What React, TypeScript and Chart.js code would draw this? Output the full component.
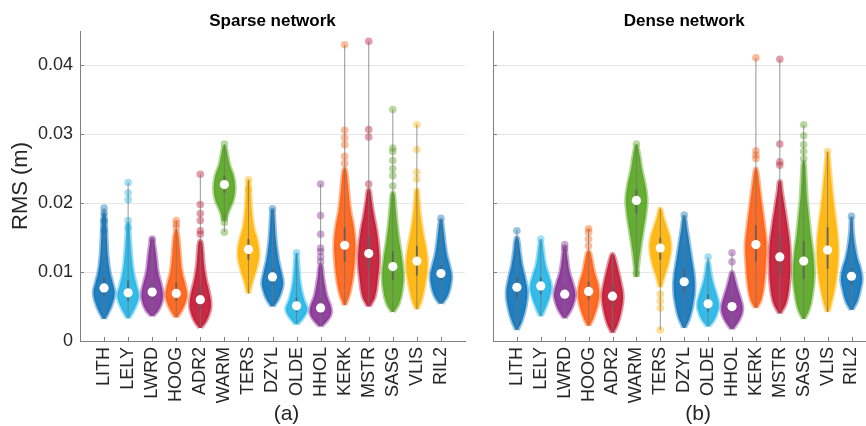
import React, { useEffect, useRef } from 'react';
import { Chart, registerables } from 'chart.js';

Chart.register(...registerables);

const FONT = '"Liberation Sans", Arial, Helvetica, sans-serif';

const stations = ['LITH', 'LELY', 'LWRD', 'HOOG', 'ADR2', 'WARM', 'TERS', 'DZYL', 'OLDE', 'HHOL', 'KERK', 'MSTR', 'SASG', 'VLIS', 'RIL2'];
const stationColors = ['#0A72BA', '#1FB4E6', '#842D93', '#FF5C0D', '#C2132F', '#54A51D', '#FFB200', '#0A72BA', '#1FB4E6', '#842D93', '#FF5C0D', '#C2132F', '#54A51D', '#FFB200', '#0A72BA'];
const yTicks = [0, 0.01, 0.02, 0.03, 0.04];
const yTickLabels = ['0', '0.01', '0.02', '0.03', '0.04'];

// ---------- Sparse network ----------
const sparseMedian = [0.0077, 0.0070, 0.0071, 0.0069, 0.0060, 0.0227, 0.0133, 0.0093, 0.0051, 0.0048, 0.0139, 0.0127, 0.0108, 0.0116, 0.0098];
const sparseQ1 = [0.0065, 0.0058, 0.0060, 0.0058, 0.0046, 0.0215, 0.0118, 0.0082, 0.0042, 0.0038, 0.0115, 0.0105, 0.0088, 0.0095, 0.0088];
const sparseQ3 = [0.0092, 0.0088, 0.0085, 0.0085, 0.0078, 0.0240, 0.0148, 0.0105, 0.0063, 0.0062, 0.0165, 0.0152, 0.0130, 0.0138, 0.0110];
const sparseMin = [0.0032, 0.0033, 0.0037, 0.0035, 0.0020, 0.0158, 0.0069, 0.0051, 0.0025, 0.0022, 0.0052, 0.0050, 0.0042, 0.0046, 0.0054];
const sparseMax = [0.0193, 0.0230, 0.0150, 0.0175, 0.0242, 0.0286, 0.0234, 0.0192, 0.0128, 0.0228, 0.0430, 0.0435, 0.0336, 0.0314, 0.0178];
// density profile: [value, relative half-width]
const sparseProfile: number[][][] = [
  [[0.0032, 0.1], [0.0042, 0.45], [0.0055, 0.8], [0.007, 1], [0.0085, 0.8], [0.010, 0.55], [0.0125, 0.35], [0.0155, 0.25], [0.0185, 0.12]],
  [[0.0033, 0.1], [0.0045, 0.55], [0.006, 0.95], [0.0068, 1], [0.008, 0.8], [0.010, 0.5], [0.012, 0.35], [0.015, 0.2], [0.017, 0.1]],
  [[0.0036, 0.1], [0.0045, 0.6], [0.0058, 0.95], [0.007, 1], [0.0085, 0.8], [0.010, 0.55], [0.012, 0.4], [0.0138, 0.25], [0.0148, 0.1]],
  [[0.0034, 0.1], [0.0045, 0.55], [0.006, 0.95], [0.007, 1], [0.0085, 0.8], [0.010, 0.55], [0.012, 0.4], [0.014, 0.3], [0.016, 0.12]],
  [[0.0019, 0.1], [0.003, 0.6], [0.0045, 0.95], [0.0055, 1], [0.007, 0.85], [0.009, 0.55], [0.011, 0.35], [0.013, 0.25], [0.0145, 0.12]],
  [[0.0175, 0.12], [0.019, 0.45], [0.0205, 0.85], [0.0222, 1], [0.024, 0.85], [0.0255, 0.5], [0.027, 0.3], [0.0282, 0.12]],
  [[0.0069, 0.1], [0.0085, 0.35], [0.0105, 0.75], [0.0125, 1], [0.0145, 0.85], [0.0165, 0.5], [0.019, 0.3], [0.0215, 0.2], [0.0232, 0.1]],
  [[0.005, 0.12], [0.0062, 0.6], [0.0075, 0.9], [0.0085, 1], [0.0098, 0.85], [0.0115, 0.6], [0.013, 0.45], [0.015, 0.3], [0.0175, 0.2], [0.019, 0.1]],
  [[0.0024, 0.1], [0.0033, 0.6], [0.0042, 0.95], [0.0048, 1], [0.006, 0.7], [0.0075, 0.45], [0.009, 0.3], [0.011, 0.2], [0.0125, 0.1]],
  [[0.0021, 0.1], [0.003, 0.65], [0.004, 1], [0.005, 0.95], [0.0065, 0.6], [0.008, 0.4], [0.0095, 0.25], [0.011, 0.12]],
  [[0.0052, 0.1], [0.007, 0.5], [0.0095, 0.8], [0.012, 0.95], [0.014, 1], [0.0165, 0.85], [0.019, 0.55], [0.022, 0.35], [0.025, 0.12]],
  [[0.005, 0.12], [0.0065, 0.6], [0.009, 0.85], [0.0115, 1], [0.0135, 0.95], [0.016, 0.75], [0.0185, 0.45], [0.0205, 0.25], [0.022, 0.1]],
  [[0.0042, 0.12], [0.0055, 0.6], [0.0075, 0.9], [0.0095, 1], [0.012, 0.85], [0.0145, 0.6], [0.017, 0.4], [0.0195, 0.25], [0.0215, 0.12]],
  [[0.0046, 0.1], [0.006, 0.45], [0.0085, 0.8], [0.011, 1], [0.013, 0.9], [0.0155, 0.6], [0.018, 0.35], [0.0205, 0.2], [0.022, 0.1]],
  [[0.0054, 0.12], [0.0065, 0.6], [0.008, 0.9], [0.0095, 1], [0.011, 0.8], [0.0125, 0.55], [0.014, 0.4], [0.016, 0.25], [0.0175, 0.1]],
];
const sparseTail: number[][] = [
  [0.016, 0.0175, 0.0186, 0.0193],
  [0.0165, 0.0175, 0.0205, 0.0215, 0.023],
  [0.0148],
  [0.0165, 0.017, 0.0175],
  [0.0155, 0.016, 0.0175, 0.0185, 0.0198, 0.0242],
  [0.0158, 0.0172, 0.0178, 0.0286],
  [0.022, 0.0234],
  [0.0192],
  [0.0128],
  [0.0115, 0.0122, 0.013, 0.0135, 0.0155, 0.0182, 0.0228],
  [0.0258, 0.0268, 0.0285, 0.0295, 0.0306, 0.043],
  [0.0228, 0.0296, 0.0307, 0.0435],
  [0.0225, 0.024, 0.025, 0.0262, 0.0275, 0.028, 0.0336],
  [0.0235, 0.0245, 0.0278, 0.0314],
  [0.0178],
];

// ---------- Dense network ----------
const denseMedian = [0.0078, 0.0080, 0.0068, 0.0072, 0.0065, 0.0204, 0.0135, 0.0086, 0.0054, 0.0050, 0.0140, 0.0122, 0.0116, 0.0132, 0.0094];
const denseQ1 = [0.0062, 0.0068, 0.0058, 0.0060, 0.0050, 0.0185, 0.0118, 0.0070, 0.0043, 0.0040, 0.0115, 0.0095, 0.0090, 0.0105, 0.0082];
const denseQ3 = [0.0093, 0.0092, 0.0080, 0.0086, 0.0082, 0.0220, 0.0150, 0.0105, 0.0068, 0.0063, 0.0168, 0.0152, 0.0145, 0.0165, 0.0106];
const denseMin = [0.0016, 0.0036, 0.0033, 0.0022, 0.0012, 0.0093, 0.0016, 0.0019, 0.0021, 0.0017, 0.0048, 0.0040, 0.0032, 0.0042, 0.0045];
const denseMax = [0.0161, 0.0148, 0.0140, 0.0163, 0.0126, 0.0286, 0.0192, 0.0183, 0.0122, 0.0128, 0.0411, 0.0409, 0.0314, 0.0275, 0.0181];
const denseProfile: number[][][] = [
  [[0.0016, 0.1], [0.003, 0.5], [0.005, 0.85], [0.007, 1], [0.009, 0.8], [0.011, 0.5], [0.013, 0.3], [0.015, 0.12]],
  [[0.0036, 0.1], [0.005, 0.5], [0.0068, 0.9], [0.008, 1], [0.0095, 0.75], [0.011, 0.45], [0.013, 0.25], [0.0145, 0.1]],
  [[0.0033, 0.1], [0.0045, 0.6], [0.006, 0.95], [0.007, 1], [0.0085, 0.75], [0.010, 0.45], [0.012, 0.25], [0.0135, 0.1]],
  [[0.0022, 0.1], [0.0035, 0.5], [0.0055, 0.9], [0.007, 1], [0.0085, 0.85], [0.010, 0.55], [0.012, 0.3], [0.013, 0.12]],
  [[0.0012, 0.1], [0.0025, 0.5], [0.0045, 0.85], [0.0065, 1], [0.0085, 0.8], [0.0105, 0.5], [0.012, 0.25], [0.0126, 0.1]],
  [[0.0093, 0.1], [0.011, 0.2], [0.0135, 0.4], [0.016, 0.65], [0.0185, 0.9], [0.0205, 1], [0.0225, 0.85], [0.025, 0.5], [0.027, 0.3], [0.0283, 0.1]],
  [[0.0078, 0.1], [0.0095, 0.4], [0.0115, 0.8], [0.0135, 1], [0.015, 0.9], [0.0165, 0.6], [0.018, 0.3], [0.0192, 0.1]],
  [[0.0019, 0.1], [0.0035, 0.55], [0.0055, 0.85], [0.0075, 1], [0.0095, 0.95], [0.012, 0.7], [0.0145, 0.45], [0.0165, 0.25], [0.018, 0.1]],
  [[0.0021, 0.1], [0.003, 0.55], [0.0045, 0.95], [0.0055, 1], [0.007, 0.75], [0.0085, 0.45], [0.010, 0.25], [0.0115, 0.1]],
  [[0.0017, 0.1], [0.0028, 0.6], [0.004, 0.95], [0.005, 1], [0.0065, 0.75], [0.008, 0.45], [0.0095, 0.2], [0.010, 0.1]],
  [[0.0048, 0.1], [0.006, 0.5], [0.0085, 0.8], [0.0115, 0.95], [0.014, 1], [0.017, 0.8], [0.0205, 0.5], [0.023, 0.3], [0.025, 0.1]],
  [[0.004, 0.1], [0.0055, 0.6], [0.008, 0.9], [0.011, 1], [0.014, 0.95], [0.017, 0.7], [0.0195, 0.45], [0.022, 0.2], [0.0232, 0.1]],
  [[0.0032, 0.1], [0.0045, 0.5], [0.0065, 0.8], [0.0095, 1], [0.0125, 0.9], [0.0155, 0.65], [0.0185, 0.45], [0.021, 0.3], [0.024, 0.2], [0.026, 0.1]],
  [[0.0042, 0.1], [0.0055, 0.35], [0.008, 0.7], [0.011, 0.95], [0.0135, 1], [0.0165, 0.85], [0.0195, 0.6], [0.0225, 0.4], [0.025, 0.25], [0.0272, 0.1]],
  [[0.0045, 0.1], [0.0058, 0.55], [0.0075, 0.85], [0.009, 1], [0.0105, 0.85], [0.012, 0.55], [0.014, 0.3], [0.016, 0.15], [0.0178, 0.08]],
];
const denseTail: number[][] = [
  [0.016],
  [0.0148],
  [0.0135, 0.014],
  [0.0138, 0.0148, 0.0158, 0.0163],
  [],
  [0.0098, 0.0286],
  [0.0016, 0.0048, 0.0058, 0.0068],
  [0.0183],
  [0.0122],
  [0.0115, 0.0128],
  [0.0265, 0.027, 0.0276, 0.0411],
  [0.0255, 0.026, 0.0286, 0.0409],
  [0.0265, 0.0275, 0.0285, 0.0298, 0.0314],
  [0.0275],
  [0.0181],
];

const HALF_WIDTH = 0.44; // category units for relative width 1

function rgba(hex: string, a: number) {
  const n = parseInt(hex.slice(1), 16);
  return `rgba(${(n >> 16) & 255},${(n >> 8) & 255},${n & 255},${a})`;
}

function buildDatasets(med: number[], q1: number[], q3: number[], mn: number[], mx: number[], prof: number[][][], tail: number[][]) {
  const ds: any[] = [];
  stations.forEach((_, i) => {
    const cx = i + 1;
    const col = stationColors[i];
    const p = prof[i];
    const left = p.map(([v, w]) => ({ x: cx - w * HALF_WIDTH, y: v }));
    const right = p.slice().reverse().map(([v, w]) => ({ x: cx + w * HALF_WIDTH, y: v }));
    ds.push({
      type: 'line', order: 5, data: [...left, ...right], fill: 'shape',
      backgroundColor: rgba(col, 0.9), borderColor: rgba(col, 0.45), borderWidth: 3.5,
      pointRadius: 0, tension: 0.4,
    });
    ds.push({
      type: 'scatter', order: 4, data: tail[i].map((v) => ({ x: cx, y: v })),
      backgroundColor: rgba(col, 0.42), borderWidth: 0, pointRadius: 3.8,
    });
    ds.push({
      type: 'line', order: 3, data: [{ x: cx, y: mn[i] }, { x: cx, y: mx[i] }],
      borderColor: 'rgba(115,115,115,0.75)', borderWidth: 1, pointRadius: 0, fill: false,
    });
    ds.push({
      type: 'line', order: 2, data: [{ x: cx, y: q1[i] }, { x: cx, y: q3[i] }],
      borderColor: 'rgba(95,95,95,0.85)', borderWidth: 2, pointRadius: 0, fill: false,
    });
  });
  ds.push({
    type: 'scatter', order: 0, data: med.map((v, i) => ({ x: i + 1, y: v })),
    backgroundColor: '#ffffff', borderWidth: 0, pointRadius: 4.6,
  });
  return ds;
}

function decor(title: string, label: string) {
  return {
    id: 'decor',
    afterDraw(chart: any) {
      const { ctx, chartArea, scales } = chart;
      ctx.save();
      ctx.strokeStyle = '#808080';
      ctx.lineWidth = 1;
      ctx.beginPath();
      stations.forEach((_, i) => {
        const px = Math.round(scales.x.getPixelForValue(i + 1)) + 0.5;
        ctx.moveTo(px, chartArea.bottom);
        ctx.lineTo(px, chartArea.bottom - 4);
      });
      yTicks.forEach((v) => {
        const py = Math.round(scales.y.getPixelForValue(v)) + 0.5;
        ctx.moveTo(chartArea.left, py);
        ctx.lineTo(chartArea.left + 4, py);
      });
      ctx.stroke();
      const cx = (chartArea.left + chartArea.right) / 2;
      ctx.fillStyle = '#000000';
      ctx.textAlign = 'center';
      ctx.textBaseline = 'middle';
      ctx.font = `bold 17px ${FONT}`;
      ctx.fillText(title, cx, 21);
      ctx.fillStyle = '#262626';
      ctx.font = `21px ${FONT}`;
      ctx.fillText(label, cx + 14, 414);
      ctx.restore();
    },
  };
}

function makeConfig(showY: boolean, title: string, label: string, datasets: any[]): any {
  return {
    type: 'line',
    data: { datasets },
    options: {
      responsive: false,
      animation: false,
      events: [],
      layout: { padding: { top: 31, right: showY ? 15 : 3, bottom: 0, left: 0 } },
      plugins: { legend: { display: false }, tooltip: { enabled: false }, title: { display: false } },
      scales: {
        x: {
          type: 'linear', min: 0, max: 16,
          afterBuildTicks: (s: any) => { s.ticks = stations.map((_, i) => ({ value: i + 1 })); },
          afterFit: (s: any) => { s.height = 85; },
          grid: { display: false, drawTicks: false },
          border: { display: true, color: '#808080', width: 1 },
          ticks: {
            autoSkip: false, minRotation: 90, maxRotation: 90, padding: 6, color: '#262626',
            font: { family: FONT, size: 18 },
            callback: (_v: any, idx: number) => stations[idx],
          },
        },
        y: {
          type: 'linear', min: 0, max: 0.045,
          afterBuildTicks: (s: any) => { s.ticks = yTicks.map((v) => ({ value: v })); },
          afterFit: (s: any) => { s.width = showY ? 80 : 13; },
          grid: { color: '#e6e6e6', lineWidth: 1, drawTicks: false },
          border: { display: true, color: '#808080', width: 1 },
          ticks: {
            display: showY, padding: 7, color: '#262626',
            font: { family: FONT, size: 18 },
            callback: (_v: any, idx: number) => yTickLabels[idx],
          },
          title: {
            display: showY, text: 'RMS (m)', color: '#262626',
            font: { family: FONT, size: 22 }, padding: { top: 8, bottom: 0 },
          },
        },
      },
    },
    plugins: [decor(title, label)],
  };
}

export default function App() {
  const leftRef = useRef<HTMLCanvasElement>(null);
  const rightRef = useRef<HTMLCanvasElement>(null);
  useEffect(() => {
    const c1 = new Chart(leftRef.current!, makeConfig(true, 'Sparse network', '(a)',
      buildDatasets(sparseMedian, sparseQ1, sparseQ3, sparseMin, sparseMax, sparseProfile, sparseTail)));
    const c2 = new Chart(rightRef.current!, makeConfig(false, 'Dense network', '(b)',
      buildDatasets(denseMedian, denseQ1, denseQ3, denseMin, denseMax, denseProfile, denseTail)));
    return () => { c1.destroy(); c2.destroy(); };
  }, []);
  return (
    <div style={{ position: 'absolute', left: 0, top: 0, width: 866, height: 426, overflow: 'hidden', background: '#ffffff' }}>
      <canvas ref={leftRef} width={480} height={426} style={{ position: 'absolute', left: 0, top: 0 }} />
      <canvas ref={rightRef} width={400} height={426} style={{ position: 'absolute', left: 480, top: 0 }} />
    </div>
  );
}
